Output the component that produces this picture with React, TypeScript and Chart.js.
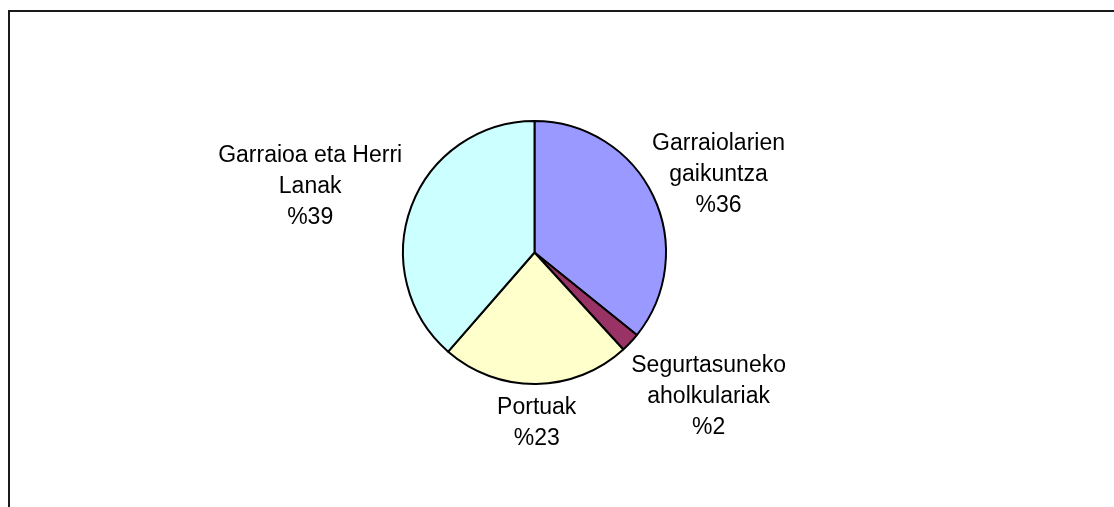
import React, { useEffect, useRef } from "react";
import { Chart, registerables } from "chart.js";

Chart.register(...registerables);

// ---- data ----
const categories: string[][] = [
  ["Garraiolarien", "gaikuntza"],
  ["Segurtasuneko", "aholkulariak"],
  ["Portuak"],
  ["Garraioa eta Herri", "Lanak"],
];
const shares: number[] = [35.8, 2.4, 23.2, 38.6];
const sliceColors: string[] = ["#9999FF", "#993366", "#FFFFCC", "#CCFFFF"];
// extra radial gap between pie edge and each label block (layout)
const labelGaps: number[] = [6, 30, 6, 16];

const W = 1114;
const H = 507;
const FONT = '23px "Liberation Sans", Arial, sans-serif';
const LINE_H = 31;
const CAP_HALF = 8.2;

const framePlugin = {
  id: "frame",
  beforeDraw(chart: any) {
    const ctx = chart.ctx;
    ctx.save();
    ctx.fillStyle = "#ffffff";
    ctx.fillRect(0, 0, chart.width, chart.height);
    ctx.strokeStyle = "#1a1a1a";
    ctx.lineWidth = 2;
    ctx.strokeRect(9, 11, chart.width + 40, chart.height + 40);
    ctx.restore();
  },
};

const labelPlugin = {
  id: "sliceLabels",
  afterDatasetsDraw(chart: any) {
    const meta = chart.getDatasetMeta(0);
    const ctx = chart.ctx;
    ctx.save();
    ctx.font = FONT;
    ctx.fillStyle = "#000000";
    ctx.textAlign = "center";
    ctx.textBaseline = "alphabetic";
    meta.data.forEach((arc: any, i: number) => {
      const { x, y, startAngle, endAngle, outerRadius } = arc.getProps(
        ["x", "y", "startAngle", "endAngle", "outerRadius"],
        true
      );
      const a = (startAngle + endAngle) / 2;
      const lines = [...categories[i], "%" + Math.round(shares[i])];
      const w = Math.max(...lines.map((l) => ctx.measureText(l).width));
      const h = lines.length * LINE_H;
      const r = outerRadius + labelGaps[i];
      const cx = x + r * Math.cos(a) + (w / 2) * Math.cos(a);
      const cy = y + r * Math.sin(a) + (h / 2) * Math.sin(a);
      lines.forEach((l, k) => {
        const ly = cy + (k - (lines.length - 1) / 2) * LINE_H + CAP_HALF;
        ctx.fillText(l, cx, ly);
      });
    });
    ctx.restore();
  },
};

export default function App() {
  const ref = useRef<HTMLCanvasElement | null>(null);

  useEffect(() => {
    if (!ref.current) return;
    const chart = new Chart(ref.current, {
      type: "pie",
      data: {
        labels: categories.map((c) => c.join(" ")),
        datasets: [
          {
            data: shares,
            backgroundColor: sliceColors,
            borderColor: "#000000",
            borderWidth: 2,
          },
        ],
      },
      options: {
        responsive: false,
        animation: false,
        layout: { padding: { left: 402, top: 120, right: 447, bottom: 122 } },
        plugins: {
          legend: { display: false },
          tooltip: { enabled: false },
          title: { display: false },
        },
      },
      plugins: [framePlugin, labelPlugin],
    });
    return () => chart.destroy();
  }, []);

  return (
    <div style={{ position: "absolute", left: 0, top: 0, width: W, height: H }}>
      <canvas ref={ref} width={W} height={H} style={{ display: "block" }} />
    </div>
  );
}
